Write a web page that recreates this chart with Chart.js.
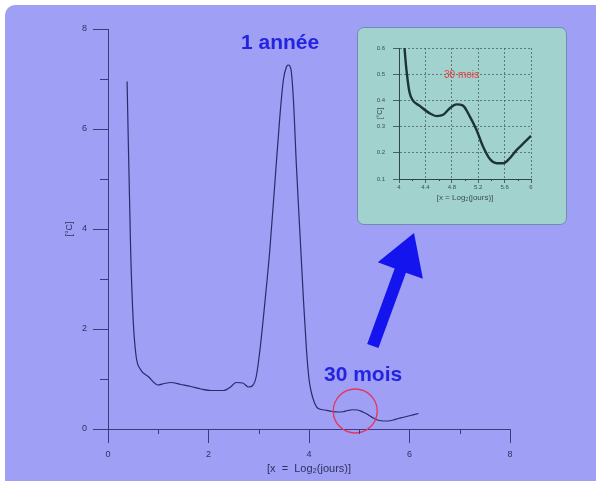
<!DOCTYPE html>
<html>
<head>
<meta charset="utf-8">
<style>
body{margin:0;background:#fff;width:596px;height:481px;overflow:hidden;position:relative;font-family:"Liberation Sans",Arial,sans-serif}
#panel{position:absolute;left:5px;top:5px;width:591px;height:476px;background:#9f9ff6;border-top-left-radius:10px}
#main{position:absolute;left:0;top:0}
#insetBox{position:absolute;left:357px;top:27px;width:208px;height:196px;background:#a1d2cd;border:1px solid #6f8db0;border-radius:7px;overflow:hidden}
#inset{position:absolute;left:0;top:0}
.note{position:absolute;font-weight:bold;color:#2424e0;font-size:21px;white-space:nowrap;line-height:24px}
#insetNote{position:absolute;left:86px;top:41px;color:#f03a3a;font-size:10px;white-space:nowrap}
</style>
</head>
<body>
<div id="panel"></div>
<canvas id="main" width="596" height="481"></canvas>
<div id="insetBox"><canvas id="inset" width="208" height="196"></canvas><div id="insetNote">30 mois</div></div>
<div class="note" style="left:241px;top:30px">1 année</div>
<div class="note" style="left:324px;top:362px">30 mois</div>
<script src="https://cdn.jsdelivr.net/npm/chart.js@4"></script>
<script>
// temperature spectrum, x = log2(days)
const xVals = [0.38, 0.45, 0.50, 0.56, 0.64, 0.80, 1.0, 1.12, 1.25, 1.45, 1.65, 1.85, 2.05, 2.3, 2.45, 2.55, 2.68, 2.8, 2.88, 2.95, 3.02, 3.12, 3.22, 3.32, 3.42, 3.49, 3.55, 3.59, 3.64, 3.69, 3.75, 3.82, 3.89, 3.95, 4.0, 4.05, 4.09, 4.12, 4.16, 4.21, 4.31, 4.47, 4.57, 4.67, 4.77, 4.87, 4.97, 5.07, 5.17, 5.28, 5.38, 5.48, 5.58, 5.68, 5.78, 5.88, 6.0, 6.18];
const yVals = [6.95, 3.6, 2.2, 1.45, 1.2, 1.05, 0.88, 0.91, 0.93, 0.89, 0.85, 0.80, 0.77, 0.77, 0.85, 0.93, 0.92, 0.84, 0.87, 1.05, 1.55, 2.51, 3.58, 4.91, 6.25, 6.98, 7.24, 7.28, 7.2, 6.58, 5.25, 3.91, 2.58, 1.58, 1.0, 0.72, 0.58, 0.5, 0.43, 0.40, 0.38, 0.35, 0.34, 0.345, 0.37, 0.385, 0.38, 0.34, 0.29, 0.22, 0.175, 0.16, 0.16, 0.18, 0.21, 0.235, 0.265, 0.31];

const mainXMinor = [1, 3, 5, 7];
const mainYMinor = [1, 3, 5, 7];
const insetXMinor = [4.2, 4.6, 5.0, 5.4, 5.8];

const circleAt = [4.92, 0.36];
const arrowTail = [5.27, 1.66];
const arrowTip = [6.09, 3.92];

const points = xVals.map((x, i) => ({x: x, y: yVals[i]}));

const axisCol = '#3a3a7c';
const labelCol = '#30305e';

const minorTicks = {
  id: 'minorTicks',
  afterDraw(chart, args, o) {
    const {ctx, scales: {x, y}} = chart;
    ctx.save();
    ctx.strokeStyle = o.color;
    ctx.lineWidth = 1;
    (o.xs || []).forEach(v => {
      const px = Math.round(x.getPixelForValue(v)) + 0.5;
      ctx.beginPath(); ctx.moveTo(px, y.bottom); ctx.lineTo(px, y.bottom + o.xLen); ctx.stroke();
    });
    (o.ys || []).forEach(v => {
      const py = Math.round(y.getPixelForValue(v)) + 0.5;
      ctx.beginPath(); ctx.moveTo(x.left, py); ctx.lineTo(x.left - o.yLen, py); ctx.stroke();
    });
    ctx.restore();
  }
};

const marks = {
  id: 'marks',
  afterDatasetsDraw(chart) {
    const {ctx, scales: {x, y}} = chart;
    ctx.save();
    ctx.strokeStyle = '#e8345c';
    ctx.lineWidth = 1.3;
    ctx.beginPath();
    ctx.arc(x.getPixelForValue(circleAt[0]), y.getPixelForValue(circleAt[1]), 22, 0, Math.PI * 2);
    ctx.stroke();

    const tx = x.getPixelForValue(arrowTip[0]), ty = y.getPixelForValue(arrowTip[1]);
    const bx = x.getPixelForValue(arrowTail[0]), by = y.getPixelForValue(arrowTail[1]);
    const len = Math.hypot(tx - bx, ty - by);
    const ux = (tx - bx) / len, uy = (ty - by) / len, nx = -uy, ny = ux;
    const headLen = 40, headW = 24, shaftW = 6;
    const hx = tx - ux * headLen, hy = ty - uy * headLen;
    ctx.fillStyle = '#1414ee';
    ctx.beginPath();
    ctx.moveTo(bx + nx * shaftW, by + ny * shaftW);
    ctx.lineTo(hx + nx * shaftW, hy + ny * shaftW);
    ctx.lineTo(hx + nx * headW, hy + ny * headW);
    ctx.lineTo(tx, ty);
    ctx.lineTo(hx - nx * headW, hy - ny * headW);
    ctx.lineTo(hx - nx * shaftW, hy - ny * shaftW);
    ctx.lineTo(bx - nx * shaftW, by - ny * shaftW);
    ctx.closePath();
    ctx.fill();
    ctx.restore();
  }
};

new Chart(document.getElementById('main'), {
  type: 'line',
  data: {datasets: [{data: points, borderColor: '#2a2a6c', borderWidth: 1.2, pointRadius: 0, cubicInterpolationMode: 'monotone', fill: false}]},
  options: {
    responsive: false, animation: false, events: [],
    layout: {padding: {left: 0, top: 29, right: 86, bottom: 0}},
    plugins: {
      legend: {display: false}, tooltip: {enabled: false},
      minorTicks: {color: axisCol, xs: mainXMinor, ys: mainYMinor, xLen: 5, yLen: 8}
    },
    scales: {
      x: {
        type: 'linear', min: 0, max: 8,
        afterFit: s => { s.height = 52; },
        ticks: {stepSize: 2, padding: 6, color: labelCol, font: {family: 'Liberation Sans', size: 9}},
        grid: {drawOnChartArea: false, tickLength: 14, color: axisCol, tickColor: axisCol},
        border: {color: axisCol, width: 1},
        title: {display: true, text: '[x  =  Log₂(jours)]', color: labelCol, font: {family: 'Liberation Sans', size: 11}, padding: {top: 0, bottom: 5}}
      },
      y: {
        min: 0, max: 8,
        afterFit: s => { s.width = 108; },
        ticks: {stepSize: 2, padding: 6, color: labelCol, font: {family: 'Liberation Sans', size: 9}},
        grid: {drawOnChartArea: false, tickLength: 15, color: axisCol, tickColor: axisCol},
        border: {color: axisCol, width: 1},
        title: {display: true, text: '[°C]', color: labelCol, font: {family: 'Liberation Sans', size: 9}, padding: {top: 64, bottom: 0}}
      }
    }
  },
  plugins: [minorTicks, marks]
});

const insetAxis = '#2e4646';
const insetGrid = '#4b6464';
new Chart(document.getElementById('inset'), {
  type: 'line',
  data: {datasets: [{data: points, borderColor: '#1c3434', borderWidth: 2.4, pointRadius: 0, cubicInterpolationMode: 'monotone', fill: false}]},
  options: {
    responsive: false, animation: false, events: [],
    layout: {padding: {left: 0, top: 20, right: 35, bottom: 0}},
    plugins: {
      legend: {display: false}, tooltip: {enabled: false},
      minorTicks: {color: insetAxis, xs: insetXMinor, ys: [], xLen: 2, yLen: 0}
    },
    scales: {
      x: {
        type: 'linear', min: 4, max: 6,
        afterFit: s => { s.height = 45; },
        ticks: {stepSize: 0.4, padding: 1, color: '#3a5050', font: {family: 'Liberation Sans', size: 6}, callback: v => String(+v.toFixed(1))},
        grid: {color: insetGrid, lineWidth: 0.8, tickLength: 4, tickColor: insetAxis},
        border: {color: insetAxis, width: 1, dash: [2, 2]},
        title: {display: true, text: '[x = Log₂(jours)]', color: '#3a5050', font: {family: 'Liberation Sans', size: 8}, padding: {top: 0, bottom: 21}}
      },
      y: {
        min: 0.1, max: 0.6,
        afterFit: s => { s.width = 41; },
        ticks: {stepSize: 0.1, padding: 8, color: '#3a5050', font: {family: 'Liberation Sans', size: 6}, callback: v => v.toFixed(1)},
        grid: {color: insetGrid, lineWidth: 0.8, tickLength: 6, tickColor: insetAxis},
        border: {color: insetAxis, width: 1, dash: [2, 2]},
        title: {display: true, text: '[°C]', color: '#3a5050', font: {family: 'Liberation Sans', size: 7}, padding: {top: 18, bottom: 0}}
      }
    }
  },
  plugins: [minorTicks]
});
</script>
</body>
</html>
